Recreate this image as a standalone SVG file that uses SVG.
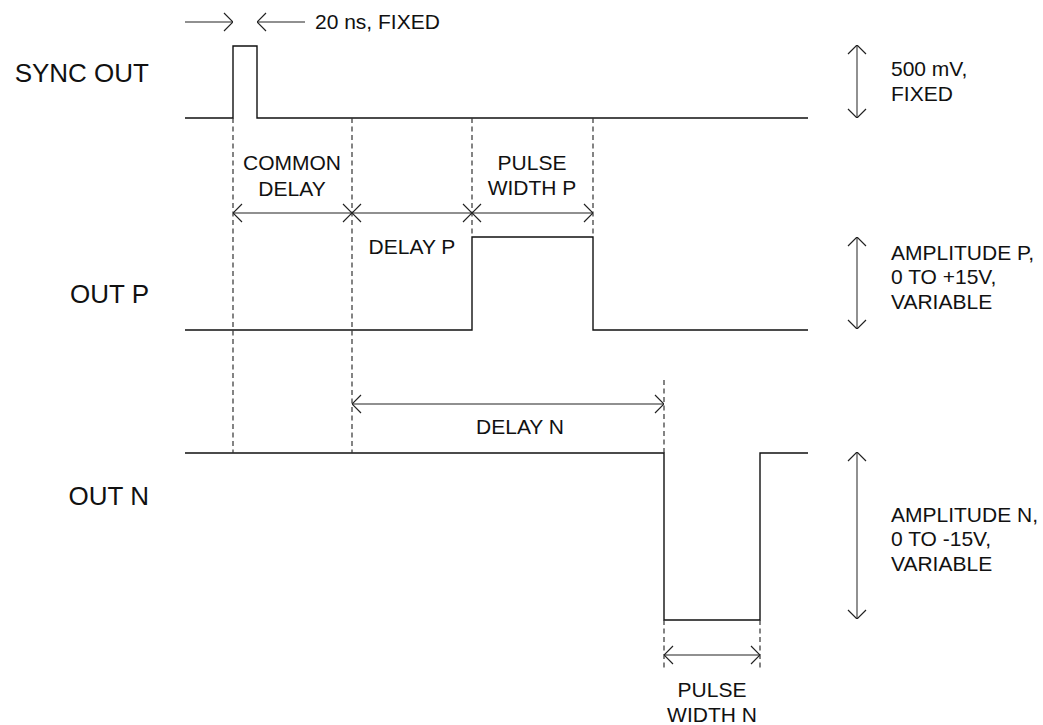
<svg xmlns="http://www.w3.org/2000/svg" width="1043" height="725" viewBox="0 0 1043 725">
<defs>
<marker id="ah" viewBox="0 0 10 20" refX="10" refY="10" markerWidth="10" markerHeight="20" markerUnits="userSpaceOnUse" orient="auto-start-reverse">
<path d="M1,1 L10,10 L1,19" fill="none" stroke="#222" stroke-width="1.2"/>
</marker>
</defs>
<style>
text{font-family:"Liberation Sans",Arial,sans-serif;fill:#111;}
.lbl{font-size:26px;text-anchor:end;}
.t{font-size:21px;}
.c{text-anchor:middle;}
.sig{fill:none;stroke:#111;stroke-width:1.4;}
.dash{fill:none;stroke:#333;stroke-width:1.2;stroke-dasharray:5,3.5;}
.dim{fill:none;stroke:#222;stroke-width:1.2;marker-start:url(#ah);marker-end:url(#ah);}
.amp{fill:none;stroke:#555;stroke-width:1.3;marker-start:url(#ah);marker-end:url(#ah);}
.one{fill:none;stroke:#222;stroke-width:1.2;marker-end:url(#ah);}
</style>
<rect width="1043" height="725" fill="#fff"/>
<g id="sync-out">
<text class="lbl" x="149" y="82">SYNC OUT</text>
<path class="sig" d="M185,118 H233 V46 H257 V118 H808"/>
</g>
<g id="out-p">
<text class="lbl" x="149" y="303">OUT P</text>
<path class="sig" d="M185,330 H472 V237 H593 V330 H808"/>
</g>
<g id="out-n">
<text class="lbl" x="149" y="505">OUT N</text>
<path class="sig" d="M185,453 H664 V620 H760 V453 H808"/>
</g>
<g id="guides">
<path class="dash" d="M233,118 V453 M352,118 V453 M472,118 V237 M593,118 V237 M664,380 V453 M664,620 V668 M760,620 V668"/>
</g>
<g id="connectors">
<path class="one" d="M185,22 H233"/>
<path class="one" d="M305,22 H257"/>
<path class="dim" d="M233,213 H352"/>
<path class="dim" d="M352,213 H472"/>
<path class="dim" d="M472,213 H593"/>
<path class="dim" d="M352,404 H664"/>
<path class="dim" d="M664,655 H760"/>
<path class="amp" d="M857,45 V118"/>
<path class="amp" d="M857,237 V329"/>
<path class="amp" d="M857,452 V619"/>
</g>
<g id="labels">
<text class="t" x="315" y="29">20 ns, FIXED</text>
<text class="t c" x="292" y="170">COMMON</text>
<text class="t c" x="292" y="196">DELAY</text>
<text class="t c" x="532" y="170">PULSE</text>
<text class="t c" x="532" y="195">WIDTH P</text>
<text class="t c" x="412" y="254">DELAY P</text>
<text class="t c" x="520" y="434">DELAY N</text>
<text class="t c" x="712" y="697">PULSE</text>
<text class="t c" x="712" y="722">WIDTH N</text>
<text class="t" x="891" y="76">500 mV,</text>
<text class="t" x="891" y="101">FIXED</text>
<text class="t" x="891" y="260">AMPLITUDE P,</text>
<text class="t" x="891" y="284">0 TO +15V,</text>
<text class="t" x="891" y="309">VARIABLE</text>
<text class="t" x="891" y="522">AMPLITUDE N,</text>
<text class="t" x="891" y="546">0 TO -15V,</text>
<text class="t" x="891" y="571">VARIABLE</text>
</g>
</svg>
